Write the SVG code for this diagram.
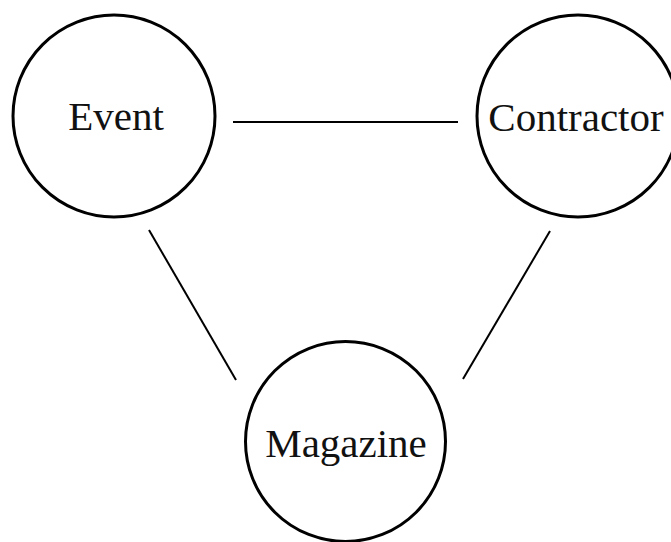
<svg xmlns="http://www.w3.org/2000/svg" width="671" height="542" viewBox="0 0 671 542">
<style>
.node circle { fill: #fff; stroke: #000; stroke-width: 3; }
.node text { font-family: "Liberation Serif", "Times New Roman", serif; font-size: 41px; fill: #111; text-anchor: middle; }
.edges line { stroke: #000; stroke-width: 2; }
</style>
<rect width="671" height="542" fill="#fff"/>
<g id="edges" class="edges">
<line x1="233" y1="122" x2="458" y2="122" stroke-width="2.5"/>
<line x1="149" y1="230" x2="236" y2="380"/>
<line x1="550" y1="231" x2="463" y2="379"/>
</g>
<g id="event" class="node">
<circle cx="114" cy="116" r="101"/>
<text x="116" y="130">Event</text>
</g>
<g id="contractor" class="node">
<circle cx="578" cy="116" r="101"/>
<text x="576" y="131">Contractor</text>
</g>
<g id="magazine" class="node">
<circle cx="345.5" cy="441.5" r="100"/>
<text x="346" y="457">Magazine</text>
</g>
</svg>
